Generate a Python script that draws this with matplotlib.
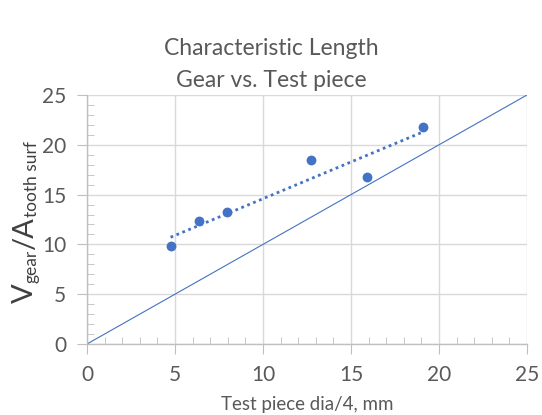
#!/usr/bin/env python3
"""Characteristic length: gear vs. test piece scatter with linear trend."""

import matplotlib
matplotlib.use("Agg")
import matplotlib.pyplot as plt
import numpy as np
from matplotlib.ticker import MultipleLocator
from matplotlib.transforms import IdentityTransform

TEST_PIECE = [4.75, 6.35, 7.95, 12.7, 15.9, 19.1]
GEAR_RATIO = [9.8, 12.3, 13.3, 18.5, 16.8, 21.8]
UNITY_LINE = [0, 25]

# y label pieces: (text, size, is_subscript)
YLABEL_PARTS = [("V", 21, False), ("gear", 12.5, True), ("/A", 21, False), ("tooth surf", 12.5, True)]

BLUE = "#4472C4"
GREY = "#595959"

plt.rcParams["font.family"] = ["Lato", "DejaVu Sans"]


def _stacked_ylabel(fig, x_base: float, y_start: float, sub_shift: float) -> None:
    # rotated label built piece by piece so subscripts can be smaller than mathtext allows
    renderer = fig.canvas.get_renderer()
    y = y_start
    for text, size, sub in YLABEL_PARTS:
        t = fig.text(x_base + (sub_shift if sub else 0.0), y, text, fontsize=size,
                     color="#404040", rotation=90, rotation_mode="anchor",
                     ha="left", va="baseline", transform=IdentityTransform())
        y += t.get_window_extent(renderer).height


def main() -> None:
    fig = plt.figure(figsize=(5.42, 4.15), dpi=100)
    ax = fig.add_axes([0.1605, 0.1711, 0.8118, 0.6000])

    ax.plot(UNITY_LINE, UNITY_LINE, color=BLUE, lw=0.8, zorder=2)

    x = np.array(TEST_PIECE)
    y = np.array(GEAR_RATIO)
    slope, intercept = np.polyfit(x, y, 1)
    xs = np.array([x.min(), x.max()])
    ax.plot(xs, slope * xs + intercept, color=BLUE, lw=2.0, ls=(0, (1, 1.3)), zorder=3)

    ax.scatter(x, y, s=50, color=BLUE, zorder=4, linewidths=0)

    ax.set_xlim(0, 25)
    ax.set_ylim(0, 25)
    ax.xaxis.set_major_locator(MultipleLocator(5))
    ax.yaxis.set_major_locator(MultipleLocator(5))
    ax.xaxis.set_minor_locator(MultipleLocator(1))
    ax.yaxis.set_minor_locator(MultipleLocator(1))
    ax.grid(True, which="major", color="#D9D9D9", lw=1.0, zorder=0)
    ax.set_axisbelow(True)

    for side in ("top", "right"):
        ax.spines[side].set_visible(False)
    for side in ("left", "bottom"):
        ax.spines[side].set_color("#BFBFBF")
        ax.spines[side].set_linewidth(1.0)

    ax.tick_params(which="major", direction="out", length=7, color="#BFBFBF",
                   labelsize=15, labelcolor=GREY, pad=8)
    ax.tick_params(which="minor", direction="in", length=5, color="#BFBFBF")

    ax.set_xlabel("Test piece dia/4, mm", fontsize=13.5, color=GREY, labelpad=8)
    _stacked_ylabel(fig, x_base=33, y_start=112, sub_shift=4)

    fig.text(0.5, 0.883, "Characteristic Length", ha="center", va="center",
             fontsize=16.5, color=GREY)
    fig.text(0.5, 0.806, "Gear vs. Test piece", ha="center", va="center",
             fontsize=16.5, color=GREY)

    fig.savefig("out.png", dpi=100)
    plt.close(fig)


if __name__ == "__main__":
    main()
